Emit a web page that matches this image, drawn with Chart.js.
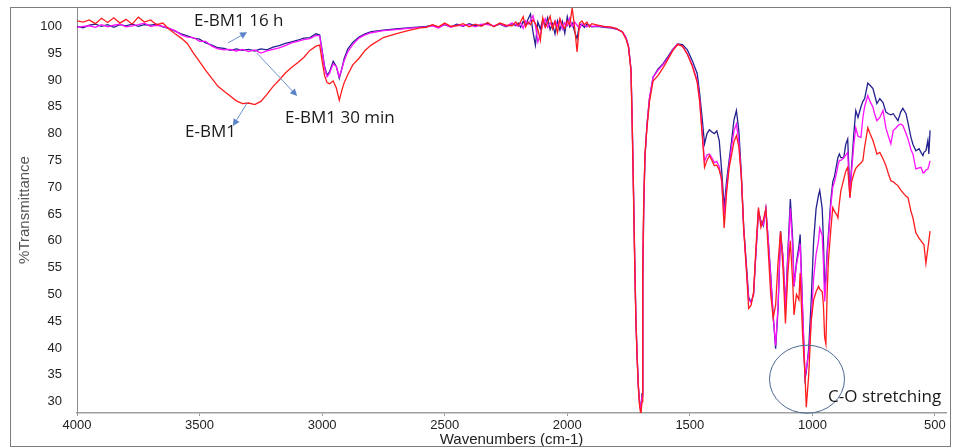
<!DOCTYPE html>
<html>
<head>
<meta charset="utf-8">
<title>FTIR E-BM1</title>
<script src="https://cdn.jsdelivr.net/npm/chart.js@4.4.1/dist/chart.umd.min.js"></script>
<style>
    body { margin: 0; background: #fff; }
    canvas { display: block; }
</style>
</head>
<body>
<canvas id="ftir-chart" width="954" height="448"></canvas>
<script>
// wavenumbers (cm-1), shared by the three spectra
const wavenumbers = [
    4000, 3975, 3950, 3925, 3900, 3875, 3850, 3825, 3800, 3775, 3750, 3725, 3700, 3675, 3650, 3625, 3600,
    3575, 3550, 3525, 3500, 3475, 3450, 3425, 3400, 3375, 3350, 3325, 3300, 3275, 3250, 3225, 3200, 3175, 3150, 3125, 3100, 3075, 3050, 3025, 3010,
    3000, 2990, 2980, 2970, 2955, 2942, 2930, 2920, 2910, 2895, 2875, 2850, 2825, 2800, 2750, 2700, 2650, 2600,
    2575, 2550, 2525, 2500, 2475, 2450, 2425, 2400, 2375, 2350, 2325, 2300, 2275, 2250, 2225,
    2210, 2200, 2190, 2180, 2170, 2160, 2150, 2140, 2130, 2120, 2110, 2100, 2090, 2080, 2070, 2060,
    2050, 2040, 2030, 2020, 2010, 2000, 1990, 1980, 1970, 1960, 1950, 1940, 1930, 1920, 1910, 1900,
    1875, 1850, 1825, 1800,
    1775, 1760, 1750, 1740, 1735, 1730, 1725, 1720, 1715, 1710, 1705, 1700, 1695, 1692, 1688, 1683,
    1675, 1665, 1650, 1630, 1610, 1590, 1570, 1550, 1530, 1510, 1490, 1470, 1460,
    1450, 1440, 1430, 1420, 1410, 1400, 1390, 1380, 1370, 1360, 1350, 1340, 1330, 1320, 1310, 1300,
    1290, 1280, 1270, 1260, 1250, 1240, 1230, 1220, 1210, 1200, 1190, 1180, 1170, 1160, 1150, 1140,
    1130, 1120, 1110, 1100, 1090, 1080, 1075, 1065, 1055, 1050, 1040, 1030, 1025, 1015, 1005, 995,
    985, 975, 970, 960, 955, 950, 945, 940, 935, 925, 917, 910, 900, 896, 890, 884,
    872, 864, 856, 847, 840, 831, 823, 814, 802, 794, 787, 774, 765, 753, 745, 737,
    725, 712, 700, 690, 680, 670, 660, 651, 640, 631, 618, 610, 598, 590, 578, 565,
    557, 549, 545, 537, 529, 525, 520
];

// E-BM1 (red)
const ebm1 = [
    101.0, 100.8, 101.2, 100.5, 101.5, 100.7, 101.6, 100.6, 101.3, 100.4, 101.7, 100.8, 101.2, 100.3, 100.6, 99.5, 98.6,
    97.8, 96.8, 95.0, 93.4, 91.8, 90.3, 88.8, 87.9, 87.0, 86.1, 85.6, 85.7, 85.4, 86.0, 87.3, 88.8, 90.0, 91.3, 92.3, 93.2, 94.2, 95.5, 96.3, 96.5,
    93.5, 90.8, 89.5, 89.3, 89.8, 88.5, 86.2, 88.0, 89.5, 91.0, 92.8, 94.0, 95.5, 96.5, 97.9, 98.6, 99.2, 99.7,
    99.8, 100.3, 99.9, 100.6, 100.0, 100.1, 100.5, 99.9, 100.4, 100.0, 100.7, 99.9, 100.6, 100.2, 100.1,
    100.8, 100.2, 100.9, 101.8, 99.9, 100.8, 100.3, 101.2, 100.5, 99.4, 97.4, 101.6, 99.8, 100.7, 101.9, 99.5,
    100.9, 98.8, 101.4, 100.2, 99.6, 101.0, 100.3, 103.4, 99.8, 95.2, 100.6, 101.0, 100.3, 100.8, 99.9, 100.5,
    100.2, 100.0, 99.9, 99.6,
    98.9, 97.6, 96.0, 91.6, 81.0, 69.0, 56.0, 45.0, 38.0, 32.5, 29.2, 27.6, 30.0, 56.0, 67.5, 76.2,
    81.0, 85.8, 89.8, 90.8, 92.2, 93.8, 95.4, 96.6, 96.3, 94.8, 92.6, 89.6, 86.0,
    80.0, 73.7, 75.0, 75.9, 75.0, 74.0, 74.1, 73.2, 71.5, 62.4, 69.0, 73.5, 76.0, 78.5, 79.6, 77.5,
    72.0, 62.0, 55.0, 47.4, 48.0, 50.5, 59.0, 66.2, 62.5, 64.0, 65.9, 58.0, 50.0, 45.6, 48.0, 56.0,
    61.8, 55.0, 44.6, 54.0, 60.0, 52.0, 46.2, 50.0, 49.0, 54.0, 42.4, 35.0, 29.0, 35.0, 45.0, 49.0,
    50.5, 51.5, 51.0, 50.5, 48.0, 42.0, 40.8, 50.0, 56.1, 62.0, 66.2, 65.5, 64.8, 64.3, 67.0, 69.3,
    71.5, 73.0, 73.7, 68.1, 71.0, 72.5, 73.5, 74.0, 74.5, 75.0, 77.5, 81.1, 80.0, 78.7, 77.5, 76.2,
    76.5, 75.3, 74.0, 72.5, 71.2, 71.0, 70.6, 70.3, 69.5, 69.0, 68.3, 68.1, 65.5, 64.3, 61.5, 60.5,
    60.0, 59.5, 59.3, 55.8, 58.6, 60.0, 61.8
];

// E-BM1 30 min (magenta)
const ebm1_30min = [
    99.8, 100.0, 100.1, 99.8, 100.3, 99.9, 100.2, 100.4, 99.9, 100.1, 100.3, 100.6, 100.0, 100.2, 100.0, 99.6, 99.2,
    98.4, 98.0, 97.9, 97.2, 97.2, 96.3, 95.8, 95.6, 95.7, 95.4, 95.7, 95.3, 95.6, 95.0, 95.4, 95.7, 96.0, 96.4, 96.9, 97.2, 97.5, 97.7, 98.3, 98.2,
    95.2, 92.2, 90.6, 91.2, 93.0, 92.5, 90.6, 92.0, 93.6, 95.3, 96.6, 97.8, 98.4, 98.8, 99.2, 99.4, 99.6, 99.8,
    99.9, 100.1, 99.7, 100.4, 99.8, 100.2, 100.1, 100.3, 99.9, 100.4, 100.3, 100.1, 100.5, 100.0, 100.6,
    100.3, 100.0, 100.7, 99.6, 101.0, 100.4, 101.0, 102.0, 100.2, 97.1, 98.5, 100.3, 101.4, 99.8, 100.6, 99.9,
    101.0, 100.0, 101.3, 99.5, 100.7, 100.1, 101.5, 100.0, 100.8, 100.2, 99.5, 100.5, 100.2, 99.9, 100.3, 100.0,
    100.1, 99.9, 99.8, 99.5,
    99.0, 97.8, 96.2, 92.0, 82.0, 70.0, 57.0, 45.5, 38.5, 33.0, 29.8, 28.4, 31.0, 53.0, 66.5, 75.8,
    81.5, 86.5, 90.5, 91.8, 92.8, 94.0, 95.6, 96.7, 96.3, 94.8, 92.8, 89.8, 86.5,
    80.5, 74.8, 76.0, 76.2, 75.5, 74.6, 74.8, 73.8, 71.0, 64.5, 70.0, 74.0, 77.5, 80.5, 81.8, 78.5,
    72.0, 62.0, 55.5, 49.0, 48.5, 50.0, 58.0, 65.5, 63.5, 63.0, 66.0, 60.0, 53.0, 46.0, 40.5, 48.0,
    61.0, 57.0, 47.5, 57.0, 66.0, 58.5, 51.5, 55.5, 58.0, 59.5, 47.0, 34.8, 36.0, 39.0, 45.0, 53.0,
    57.5, 60.0, 62.4, 61.0, 56.0, 48.7, 52.0, 57.0, 60.0, 66.5, 70.0, 71.0, 73.0, 74.0, 75.0, 75.0,
    75.5, 76.0, 76.5, 68.0, 73.0, 78.0, 81.1, 79.5, 79.3, 83.0, 85.0, 87.1, 86.0, 84.9, 83.5, 82.4,
    83.0, 84.3, 81.0, 79.5, 78.1, 80.6, 81.0, 81.5, 81.8, 81.5, 80.0, 79.0, 77.0, 76.2, 73.4, 73.6,
    73.7, 72.7, 72.7, 73.2, 73.4, 74.0, 74.9
];

// E-BM1 16 h (navy)
const ebm1_16h = [
    100.0, 99.7, 100.2, 100.4, 100.0, 100.3, 99.8, 100.3, 100.1, 100.4, 100.0, 100.3, 100.2, 100.4, 99.9, 99.6, 99.1,
    98.6, 98.2, 97.8, 97.6, 96.9, 96.5, 96.0, 95.9, 95.5, 95.8, 95.5, 95.7, 95.4, 95.8, 95.6, 96.1, 96.4, 96.8, 97.1, 97.4, 97.8, 97.9, 98.6, 98.4,
    95.5, 92.5, 90.9, 91.5, 93.5, 92.5, 90.3, 92.0, 94.0, 95.8, 97.0, 98.0, 98.6, 99.0, 99.3, 99.5, 99.7, 99.9,
    100.0, 100.2, 99.8, 100.3, 99.9, 100.4, 100.0, 100.5, 100.1, 100.2, 100.6, 100.0, 100.4, 99.9, 100.5,
    100.1, 100.6, 99.8, 100.9, 100.2, 101.3, 102.3, 99.0, 96.5, 100.8, 99.5, 101.2, 100.0, 101.6, 99.4, 100.5,
    98.6, 101.0, 99.3, 100.9, 98.7, 101.8, 99.9, 100.6, 99.0, 97.7, 100.4, 100.3, 99.8, 100.4, 100.1, 99.9,
    100.0, 99.8, 99.7, 99.5,
    99.0, 97.8, 96.2, 92.0, 82.0, 70.0, 57.0, 45.5, 38.5, 33.0, 29.8, 28.6, 31.5, 52.0, 66.0, 75.5,
    81.5, 86.5, 90.5, 92.0, 93.0, 94.3, 95.7, 96.7, 96.6, 95.6, 93.6, 91.2, 87.5,
    83.0, 78.1, 80.0, 80.7, 80.3, 80.0, 80.5, 78.7, 73.0, 66.2, 71.2, 74.9, 78.5, 82.5, 84.3, 80.5,
    72.5, 62.4, 56.0, 49.5, 48.5, 50.0, 58.0, 65.5, 63.7, 62.8, 66.0, 60.0, 53.7, 46.0, 39.9, 47.4,
    61.8, 57.0, 47.4, 58.0, 67.8, 60.0, 51.5, 56.0, 59.0, 61.2, 47.0, 34.3, 35.5, 40.0, 48.7, 60.0,
    66.0, 68.5, 69.4, 66.0, 60.0, 51.8, 53.0, 58.0, 61.0, 67.5, 71.0, 72.0, 74.5, 75.5, 76.2, 75.5,
    75.5, 78.0, 79.0, 68.7, 74.0, 80.0, 84.3, 83.0, 85.0, 86.0, 86.5, 89.4, 89.0, 88.4, 87.0, 85.6,
    86.5, 85.8, 84.0, 83.7, 83.5, 83.7, 83.0, 82.4, 84.0, 84.7, 83.7, 82.0, 79.3, 78.0, 76.8, 77.2,
    76.5, 75.9, 76.5, 76.8, 78.7, 76.2, 80.6
];

const seriesLabels = ['E-BM1', 'E-BM1 30 min', 'E-BM1 16 h'];
const xTickValues = [4000, 3500, 3000, 2500, 2000, 1500, 1000, 500];
const yTickValues = [30, 35, 40, 45, 50, 55, 60, 65, 70, 75, 80, 85, 90, 95, 100];

// text notes on the plot, placed in data units (wavenumber, %T)
const noteTexts = ['E-BM1 16 h', 'E-BM1 30 min', 'E-BM1', 'C-O stretching'];
const noteWave = [3523, 3151, 3559, 936];
const noteT = [101.0, 82.9, 80.3, 30.9];
// arrows: [fromWave, fromT, toWave, toT]
const arrowLines = [
    [3384, 96.9, 3306, 98.9],
    [3266, 95.0, 3102, 87.0],
    [3306, 85.7, 3364, 81.4]
];

document.addEventListener("DOMContentLoaded", function () {
    var ctx = document.getElementById('ftir-chart').getContext('2d');

    function toPoints(values) {
        return wavenumbers.map((w, i) => ({ x: w, y: values[i] }));
    }

    function drawArrow(c, x1, y1, x2, y2) {
        var ang = Math.atan2(y2 - y1, x2 - x1);
        c.beginPath();
        c.moveTo(x1, y1);
        c.lineTo(x2 - 5 * Math.cos(ang), y2 - 5 * Math.sin(ang));
        c.stroke();
        c.beginPath();
        c.moveTo(x2, y2);
        c.lineTo(x2 - 7 * Math.cos(ang) + 3.5 * Math.sin(ang), y2 - 7 * Math.sin(ang) - 3.5 * Math.cos(ang));
        c.lineTo(x2 - 7 * Math.cos(ang) - 3.5 * Math.sin(ang), y2 - 7 * Math.sin(ang) + 3.5 * Math.cos(ang));
        c.closePath();
        c.fill();
    }

    // frame round the picture, the notes, arrows and the circle
    const notesPlugin = {
        id: 'notes',
        afterDraw(chart) {
            const c = chart.ctx;
            const xs = chart.scales.x;
            const ys = chart.scales.y;
            c.save();
            c.strokeStyle = '#7d7d7d';
            c.lineWidth = 1;
            c.strokeRect(10.5, 7.5, 940, 439);

            // circle round the C-O band
            const cx = xs.getPixelForValue(1022);
            const cy = ys.getPixelForValue(34.2);
            const rx = Math.abs(xs.getPixelForValue(1022 - 153) - cx);
            const ry = Math.abs(ys.getPixelForValue(34.2 + 6.34) - cy);
            c.strokeStyle = '#4d6791';
            c.beginPath();
            c.ellipse(cx, cy, rx, ry, 0, 0, Math.PI * 2);
            c.stroke();

            c.strokeStyle = '#6f93cf';
            c.fillStyle = '#5b84c8';
            c.lineWidth = 1;
            arrowLines.forEach(a => {
                drawArrow(c, xs.getPixelForValue(a[0]), ys.getPixelForValue(a[1]),
                    xs.getPixelForValue(a[2]), ys.getPixelForValue(a[3]));
            });

            c.fillStyle = '#1a1a1a';
            c.font = '17px "Open Sans", sans-serif';
            c.textAlign = 'left';
            c.textBaseline = 'middle';
            noteTexts.forEach((t, i) => {
                c.fillText(t, xs.getPixelForValue(noteWave[i]), ys.getPixelForValue(noteT[i]));
            });
            c.restore();
        }
    };

    var chartData = {
        datasets: [{
            label: seriesLabels[0],
            data: toPoints(ebm1),
            borderColor: '#ff1c1c',
            borderWidth: 1.3,
            pointRadius: 0,
            fill: false,
            tension: 0
        }, {
            label: seriesLabels[1],
            data: toPoints(ebm1_30min),
            borderColor: '#ff10ff',
            borderWidth: 1.3,
            pointRadius: 0,
            fill: false,
            tension: 0
        }, {
            label: seriesLabels[2],
            data: toPoints(ebm1_16h),
            borderColor: '#24228e',
            borderWidth: 1.3,
            pointRadius: 0,
            fill: false,
            tension: 0
        }]
    };

    var options = {
        responsive: false,
        maintainAspectRatio: false,
        animation: false,
        devicePixelRatio: 1,
        layout: {
            padding: { left: 0, right: 8, top: 7, bottom: 0 }
        },
        plugins: {
            legend: { display: false },
            tooltip: { enabled: false }
        },
        scales: {
            x: {
                type: 'linear',
                reverse: true,
                min: 455,
                max: 4000,
                afterBuildTicks: axis => { axis.ticks = xTickValues.map(v => ({ value: v })); },
                afterFit: axis => {
                    axis.height = 35;
                    axis.paddingLeft = 0;
                    axis.paddingRight = 0;
                },
                grid: {
                    drawOnChartArea: false,
                    drawTicks: true,
                    tickLength: 3,
                    color: '#9a9a9a'
                },
                border: { display: true, color: '#a0a0a0', width: 1.5 },
                ticks: {
                    padding: 2,
                    maxRotation: 0,
                    autoSkip: false,
                    color: '#222',
                    font: { family: '"Liberation Sans", Arial, sans-serif', size: 13 },
                    callback: v => String(v)
                },
                title: {
                    display: true,
                    text: 'Wavenumbers (cm-1)',
                    color: '#222',
                    font: { family: '"Liberation Sans", Arial, sans-serif', size: 15, lineHeight: 1 },
                    padding: { top: 0, bottom: 1 }
                }
            },
            y: {
                min: 27.9,
                max: 103.6,
                afterBuildTicks: axis => { axis.ticks = yTickValues.map(v => ({ value: v })); },
                afterFit: axis => {
                    axis.width = 77;
                    axis.paddingTop = 0;
                    axis.paddingBottom = 0;
                },
                grid: { display: false, drawTicks: false },
                border: { display: true, color: '#8c8c8c', width: 1, dash: [2, 1] },
                ticks: {
                    padding: 15,
                    autoSkip: false,
                    color: '#222',
                    font: { family: '"Liberation Sans", Arial, sans-serif', size: 13 },
                    callback: v => String(v)
                },
                title: {
                    display: true,
                    text: '%Transmittance',
                    color: '#555',
                    font: { family: '"Liberation Sans", Arial, sans-serif', size: 15, lineHeight: 1 },
                    padding: { top: 17, bottom: 0 }
                }
            }
        }
    };

    new Chart(ctx, {
        type: 'line',
        data: chartData,
        options: options,
        plugins: [notesPlugin]
    });
});
</script>
</body>
</html>
